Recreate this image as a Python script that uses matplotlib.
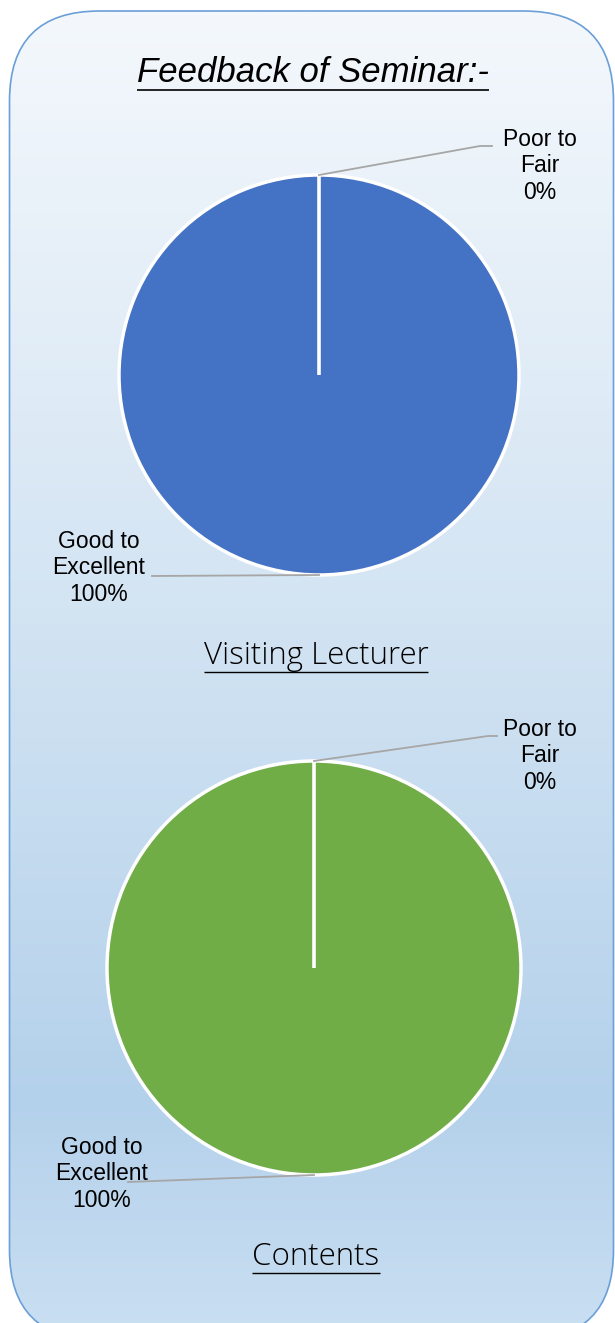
import numpy as np
import matplotlib
matplotlib.use("Agg")
import matplotlib.pyplot as plt
from matplotlib.patches import FancyBboxPatch
from matplotlib.colors import LinearSegmentedColormap

# ---- data ----
chart_title = "Feedback of Seminar:-"
pie_titles = ["Visiting Lecturer", "Contents"]
categories = ["Poor to\nFair", "Good to\nExcellent"]
lecturer_values = [0, 100]
contents_values = [0, 100]
pie_colors = ["#4472C4", "#70AD47"]

W, H = 615, 1323
fig = plt.figure(figsize=(W / 100, H / 100), dpi=100)
ax = fig.add_axes([0, 0, 1, 1])
ax.set_xlim(0, W)
ax.set_ylim(0, H)
ax.set_aspect("equal")
ax.axis("off")

def Y(py):
    return H - py

# background rounded panel with gradient
box = FancyBboxPatch((9.5, Y(1340)), 604, 1329, boxstyle="round,pad=0,rounding_size=90",
                     facecolor="none", edgecolor="#6A9FD8", linewidth=1.2, zorder=3)
ax.add_patch(box)
cmap = LinearSegmentedColormap.from_list("bg", [
    (0.0, "#F4F8FC"), (0.45, "#D3E4F3"), (0.82, "#B4D1EB"), (1.0, "#CADFF2")])
grad = np.linspace(0, 1, 512).reshape(-1, 1)
im = ax.imshow(grad, cmap=cmap, extent=(9.5, 613.5, Y(1340), Y(11)), aspect="auto",
               origin="upper", zorder=0)
clip = FancyBboxPatch((9.5, Y(1340)), 604, 1329, boxstyle="round,pad=0,rounding_size=90",
                      facecolor="none", edgecolor="none", transform=ax.transData)
ax.add_patch(clip)
im.set_clip_path(clip)

label_font = dict(family=["Liberation Sans", "DejaVu Sans"], fontsize=16.5, color="black")
thin_font = dict(family=["Open Sans", "DejaVu Sans"], fontweight="light", fontsize=22.5,
                 color="black")

renderer = fig.canvas.get_renderer()

def underline(t, y_px, lw=1.2):
    bb = t.get_window_extent(renderer=renderer)
    inv = ax.transData.inverted()
    (x0, _), (x1, _) = inv.transform([(bb.x0, bb.y0), (bb.x1, bb.y1)])
    ax.plot([x0, x1], [Y(y_px), Y(y_px)], color="black", lw=lw, zorder=5,
            solid_capstyle="butt")

t = ax.text(313, Y(72), chart_title, ha="center", va="center", fontsize=25,
            fontstyle="italic", family=["Liberation Sans", "DejaVu Sans"], zorder=5)
underline(t, 90, lw=1.2)

specs = [
    dict(values=lecturer_values, color=pie_colors[0], c=(319, 375), r=200,
         title_y=656, ul_y=672, lbl=[(540, 166, 480, 492), (99, 568, 152)]),
    dict(values=contents_values, color=pie_colors[1], c=(314, 968), r=207,
         title_y=1257, ul_y=1273, lbl=[(540, 756, 488, 497), (102, 1174, 128)]),
]

for i, s in enumerate(specs):
    cx, cy = s["c"]
    wedges, _ = ax.pie(s["values"], colors=["#A5A5A5", s["color"]], startangle=90,
                       counterclock=False, center=(cx, Y(cy)), radius=s["r"], frame=True,
                       wedgeprops=dict(edgecolor="white", linewidth=2.5))
    for w in wedges:
        w.set_zorder(2)
    ax.set_xlim(0, W)
    ax.set_ylim(0, H)
    ax.axis("off")
    # anchors from wedge mid-angles
    anchors = []
    for w in wedges:
        ang = np.deg2rad((w.theta1 + w.theta2) / 2)
        anchors.append((cx + s["r"] * np.cos(ang), Y(cy) + s["r"] * np.sin(ang)))
    # white separator at the boundary of the zero slice
    b = np.deg2rad(wedges[0].theta1)
    ax.plot([cx, cx + s["r"] * np.cos(b)], [Y(cy), Y(cy) + s["r"] * np.sin(b)],
            color="white", lw=2.6, zorder=3, solid_capstyle="butt")
    pct = [f"{v / sum(s['values']) * 100:.0f}%" for v in s["values"]]
    # Poor to Fair
    lx, ly, bx, ex = s["lbl"][0]
    ax.text(lx, Y(ly), f"{categories[0]}\n{pct[0]}", ha="center", va="center",
            linespacing=1.2, zorder=5, **label_font)
    ax.plot([anchors[0][0], bx, ex], [anchors[0][1], Y(ly - 20), Y(ly - 20)],
            color="#A6A6A6", lw=1.3, zorder=4)
    # Good to Excellent
    lx, ly, bx = s["lbl"][1]
    ax.text(lx, Y(ly), f"{categories[1]}\n{pct[1]}", ha="center", va="center",
            linespacing=1.2, zorder=5, **label_font)
    ax.plot([bx, anchors[1][0]], [Y(ly + 8), anchors[1][1]],
            color="#A6A6A6", lw=1.3, zorder=4)
    tt = ax.text(316, Y(s["title_y"]), pie_titles[i], ha="center",
                 va="center", zorder=5, **thin_font)
    underline(tt, s["ul_y"], lw=1.0)

fig.savefig("out.png", dpi=100)
